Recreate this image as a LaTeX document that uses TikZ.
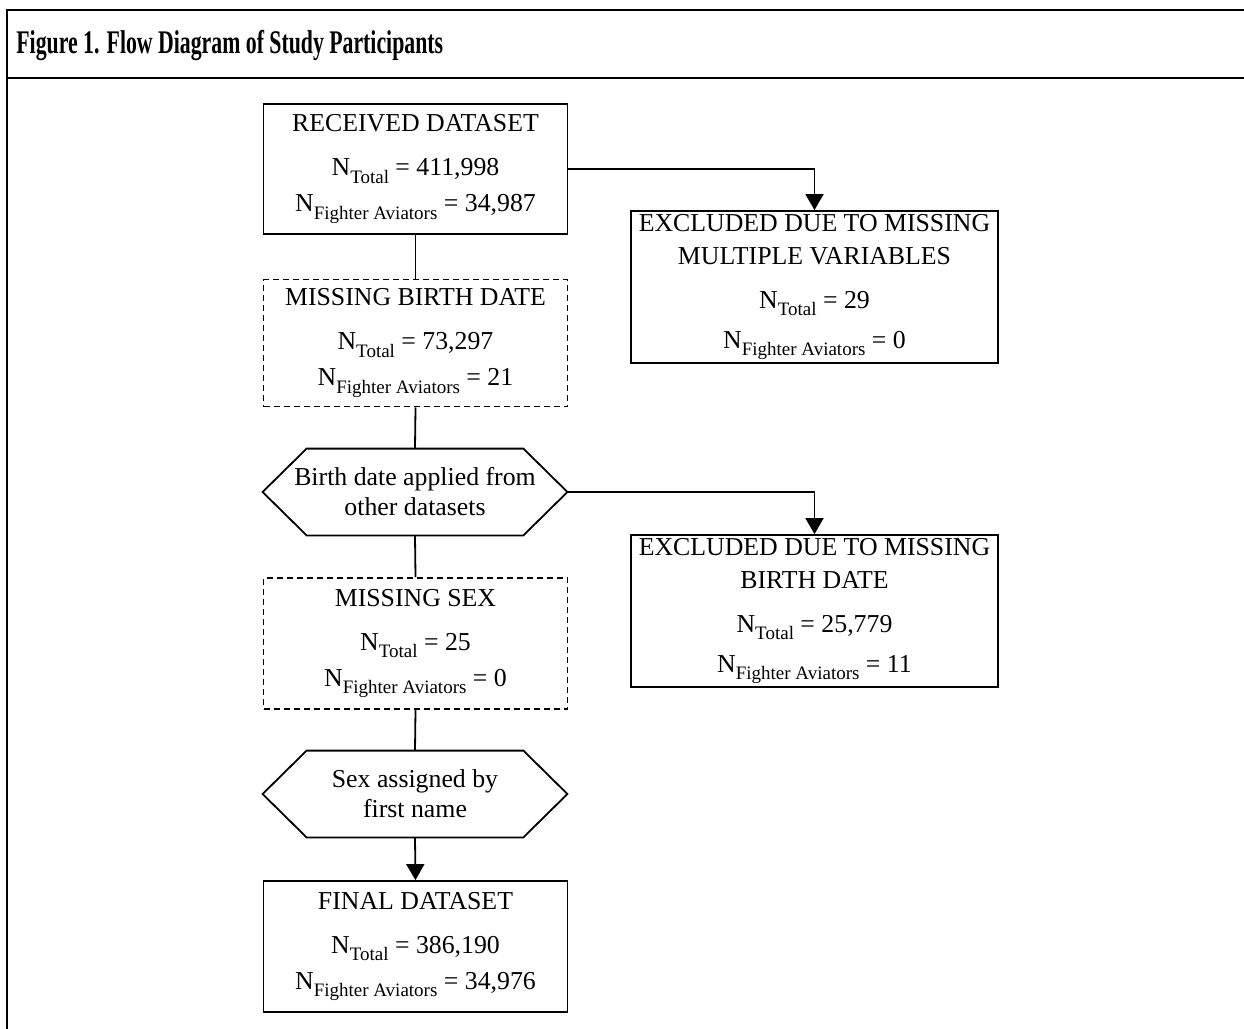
\documentclass[tikz,border=0pt]{standalone}
\usepackage{fontspec,graphicx}
\setmainfont{Liberation Serif}
\usetikzlibrary{arrows.meta}
\newcommand{\nCount}[2]{N\raisebox{-.65ex}{\fontsize{9.5}{10}\selectfont #1} = #2}
\tikzstyle{frame}=[line width=1.2pt]
\tikzstyle{box}=[draw, line width=0.9pt, minimum width=152pt, inner sep=0pt, align=center, font=\fontsize{12.9}{16.5}\selectfont]
\tikzstyle{dbox}=[box, dash pattern=on 3pt off 2pt]
\tikzstyle{xbox}=[box, minimum width=183.5pt, minimum height=76pt]
\tikzstyle{hex}=[minimum width=152pt, minimum height=43pt, inner sep=0pt, align=center, font=\fontsize{12.9}{15}\selectfont]
\tikzstyle{hexline}=[line width=0.9pt, line join=miter]
\tikzstyle{link}=[line width=0.9pt]
\tikzstyle{arr}=[link, -{Triangle[length=8pt, width=9pt]}]

\begin{document}
\begin{tikzpicture}[x=0.5pt, y=-0.5pt]
			\useasboundingbox (0,0) rectangle (1244,1029);
			% Frame and heading
			\draw[frame] (1250,10) -| (7,1040);
			\draw[frame] (7,78) -- (1250,78);
			\node[anchor=base west, inner sep=0pt] (title) at (16,53) {\scalebox{0.66}[1]{\fontsize{16.5}{18}\selectfont\bfseries Figure 1. Flow Diagram of Study Participants}};

			% Main column
			\node[box, minimum height=65pt] (recv) at (415.5,169) {RECEIVED DATASET\\[5.5pt]\nCount{Total}{411,998}\\[1.5pt]\nCount{Fighter Aviators}{34,987}};
			\node[dbox, minimum height=63.5pt] (mbd) at (415.5,343) {MISSING BIRTH DATE\\[5.5pt]\nCount{Total}{73,297}\\[1.5pt]\nCount{Fighter Aviators}{21}};
			\node[hex] (hex1) at (415,492) {Birth date applied from\\other datasets};
			\node[dbox, minimum height=65.5pt] (msex) at (415.5,643.5) {MISSING SEX\\[5.5pt]\nCount{Total}{25}\\[1.5pt]\nCount{Fighter Aviators}{0}};
			\node[hex] (hex2) at (415,794) {Sex assigned by\\first name};
			\node[box, minimum height=65.5pt] (fin) at (415.5,946.5) {FINAL DATASET\\[5.5pt]\nCount{Total}{386,190}\\[1.5pt]\nCount{Fighter Aviators}{34,976}};

			% Exclusions
			\node[xbox] (ex1) at (814.5,287) {EXCLUDED DUE TO MISSING\\MULTIPLE VARIABLES\\[5.5pt]\nCount{Total}{29}\\[3.5pt]\nCount{Fighter Aviators}{0}};
			\node[xbox] (ex2) at (814.5,611) {EXCLUDED DUE TO MISSING\\BIRTH DATE\\[5.5pt]\nCount{Total}{25,779}\\[3.5pt]\nCount{Fighter Aviators}{11}};

			% Hexagons
			\foreach \h in {hex1,hex2}
				\draw[hexline] (\h.west) -- ([xshift=22pt]\h.north west) -- ([xshift=-22pt]\h.north east) -- (\h.east) -- ([xshift=-22pt]\h.south east) -- ([xshift=22pt]\h.south west) -- cycle;

			% Connectors
			\draw[link] (recv.south) -- (mbd.north);
			\draw[link] (mbd.south) -- (hex1.north);
			\draw[link] (hex1.south) -- (msex.north);
			\draw[link] (msex.south) -- (hex2.north);
			\draw[arr] (hex2.south) -- (fin.north);
			\draw[arr] (recv.east) -| (ex1.north);
			\draw[arr] (hex1.east) -| (ex2.north);
		\end{tikzpicture}
\end{document}
